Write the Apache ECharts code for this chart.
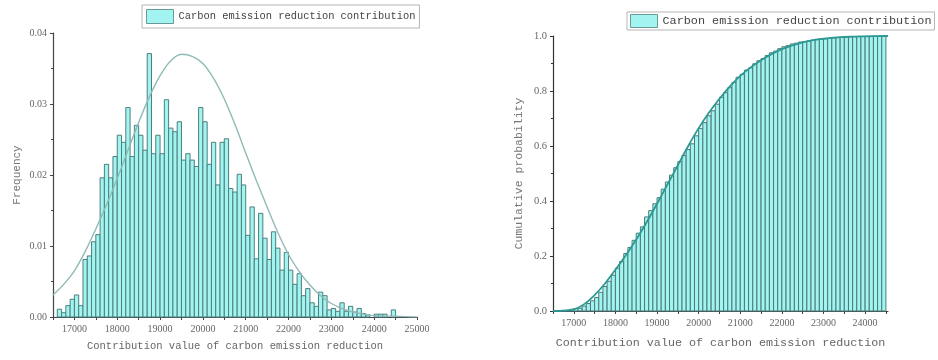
<!DOCTYPE html>
<html>
<head>
<meta charset="utf-8">
<script src="https://cdn.jsdelivr.net/npm/echarts@6/dist/echarts.min.js"></script>
<style>
  html, body { margin: 0; padding: 0; background: #fff; }
  #chart { width: 938px; height: 360px; }
</style>
</head>
<body>
<div id="chart"></div>
<script>
// histogram bins are 100 wide, first one starts at 16600
const binStart = 16600;
const binWidth = 100;

// left panel: frequency of each bin
const frequency = [
  0.0011, 0.0006, 0.0016, 0.0025, 0.0031, 0.0016, 0.0081, 0.0086, 0.0106, 0.0116,
  0.0196, 0.0215, 0.0196, 0.0226, 0.0256, 0.0246, 0.0295, 0.0226, 0.0270, 0.0256,
  0.0235, 0.0371, 0.0230, 0.0256, 0.0230, 0.0306, 0.0266, 0.0261, 0.0275, 0.0221,
  0.0230, 0.0221, 0.0212, 0.0295, 0.0275, 0.0215, 0.0246, 0.0186, 0.0246, 0.0251,
  0.0181, 0.0176, 0.0201, 0.0186, 0.0115, 0.0155, 0.0082, 0.0146, 0.0111, 0.0081,
  0.0120, 0.0097, 0.0066, 0.0091, 0.0066, 0.0046, 0.0061, 0.0030, 0.0040, 0.0020,
  0.0015, 0.0035, 0.0030, 0.0010, 0.0012, 0.0008, 0.0020, 0.0008, 0.0015, 0.0007,
  0.0012, 0.0005, 0.0003, 0, 0.0004, 0.0004, 0.0004, 0, 0.0010
];

// right panel: cumulative probability of each bin
const cumulative = [
  0.001, 0.002, 0.003, 0.006, 0.009, 0.010, 0.018, 0.027, 0.037, 0.049,
  0.068, 0.089, 0.108, 0.130, 0.156, 0.180, 0.209, 0.231, 0.257, 0.283,
  0.306, 0.342, 0.365, 0.390, 0.412, 0.443, 0.469, 0.494, 0.521, 0.543,
  0.566, 0.587, 0.608, 0.637, 0.664, 0.685, 0.710, 0.728, 0.752, 0.777,
  0.794, 0.812, 0.831, 0.850, 0.861, 0.876, 0.884, 0.899, 0.910, 0.918,
  0.929, 0.939, 0.945, 0.954, 0.961, 0.965, 0.971, 0.974, 0.978, 0.980,
  0.982, 0.985, 0.988, 0.989, 0.990, 0.991, 0.993, 0.994, 0.995, 0.996,
  0.997, 0.998, 0.998, 0.998, 0.999, 0.999, 0.999, 0.999, 1.000
];

// fitted curves as [x, y]
const pdfCurve = [
  [16500, 0.0031], [16750, 0.0046], [17000, 0.0065], [17250, 0.0092],
  [17500, 0.0124], [17750, 0.0158], [18000, 0.0195], [18250, 0.0235],
  [18500, 0.0274], [18750, 0.0310], [19000, 0.0340], [19250, 0.0361],
  [19500, 0.0370], [19750, 0.0367], [20000, 0.0357], [20250, 0.0336],
  [20500, 0.0307], [20750, 0.0271], [21000, 0.0231], [21250, 0.0192],
  [21500, 0.0155], [21750, 0.0119], [22000, 0.0088], [22250, 0.0064],
  [22500, 0.0045], [22750, 0.0030], [23000, 0.0019], [23250, 0.0012],
  [23500, 0.0007], [23750, 0.0004], [24000, 0.0002], [24500, 0.0001],
  [25000, 0.0000]
];
const cdfCurve = [
  [16500, 0.000], [16750, 0.001], [17000, 0.006], [17250, 0.025],
  [17500, 0.058], [17750, 0.100], [18000, 0.150], [18250, 0.203],
  [18500, 0.260], [18750, 0.323], [19000, 0.390], [19250, 0.460],
  [19500, 0.530], [19750, 0.600], [20000, 0.665], [20250, 0.722],
  [20500, 0.772], [20750, 0.817], [21000, 0.855], [21250, 0.886],
  [21500, 0.912], [21750, 0.934], [22000, 0.952], [22250, 0.966],
  [22500, 0.977], [22750, 0.985], [23000, 0.990], [23250, 0.994],
  [23500, 0.997], [23750, 0.998], [24000, 0.999], [24550, 1.000]
];

const leftTicks = [16500, 17000, 17500, 18000, 18500, 19000, 19500, 20000, 20500,
  21000, 21500, 22000, 22500, 23000, 23500, 24000, 24500, 25000];
const leftLabels = [17000, 18000, 19000, 20000, 21000, 22000, 23000, 24000, 25000];
const rightTicks = [16500, 17000, 17500, 18000, 18500, 19000, 19500, 20000, 20500,
  21000, 21500, 22000, 22500, 23000, 23500, 24000, 24500];
const rightLabels = [17000, 18000, 19000, 20000, 21000, 22000, 23000, 24000];

const seriesName = 'Carbon emission reduction contribution';
const xName = 'Contribution value of carbon emission reduction';

function toBins(values) {
  return values.map((v, i) => [binStart + i * binWidth, binStart + (i + 1) * binWidth, v]);
}

function barItem(fill, stroke) {
  return function (params, api) {
    const y = api.value(2);
    if (!y) return null;
    const p0 = api.coord([api.value(0), 0]);
    const p1 = api.coord([api.value(1), y]);
    return {
      type: 'rect',
      shape: { x: p0[0], y: p1[1], width: p1[0] - p0[0], height: p0[1] - p1[1] },
      style: { fill: fill, stroke: stroke, lineWidth: 1 }
    };
  };
}

const serif = 'Liberation Serif';
const mono = 'Liberation Mono';
const barFill = '#a2f4f0';
const barLine = '#4d7f7d';

function xAxis(grid, min, max, ticks, labels, nameSize, gap) {
  return {
    type: 'value', gridIndex: grid, min: min, max: max,
    name: xName, nameLocation: 'middle', nameGap: gap,
    nameTextStyle: { fontFamily: mono, fontSize: nameSize, color: '#666' },
    axisLine: { lineStyle: { color: '#444', width: 1.2 } },
    axisTick: { customValues: ticks, length: 3, lineStyle: { color: '#444' } },
    axisLabel: { customValues: labels, fontFamily: serif, fontSize: 10, color: '#666', margin: 7,
      formatter: v => String(v) },
    splitLine: { show: false }
  };
}

let myChart = echarts.init(document.getElementById('chart'));
myChart.setOption({
  animation: false,
  backgroundColor: '#fff',
  legend: [
    {
      left: 142, top: 5, padding: [4, 4],
      borderColor: '#b5b5b5', borderWidth: 1,
      itemWidth: 27, itemHeight: 14, itemGap: 5,
      textStyle: { fontFamily: mono, fontSize: 10.4, color: '#444' },
      data: [{ name: seriesName, icon: 'rect',
        itemStyle: { color: barFill, borderColor: '#6a9a98', borderWidth: 1 } }]
    },
    {
      left: 627, top: 12, padding: [2, 3],
      borderColor: '#b5b5b5', borderWidth: 1,
      itemWidth: 27, itemHeight: 13, itemGap: 5,
      textStyle: { fontFamily: mono, fontSize: 11.8, color: '#444' },
      data: [{ name: seriesName, icon: 'rect',
        itemStyle: { color: barFill, borderColor: '#6a9a98', borderWidth: 1 } }]
    }
  ],
  grid: [
    { left: 53, top: 33, width: 364, height: 284 },
    { left: 553, top: 36, width: 335, height: 275 }
  ],
  xAxis: [
    xAxis(0, 16500, 25000, leftTicks, leftLabels, 10.5, 24),
    xAxis(1, 16500, 24550, rightTicks, rightLabels, 11.7, 26)
  ],
  yAxis: [
    {
      type: 'value', gridIndex: 0, min: 0, max: 0.04, interval: 0.01,
      name: 'Frequency', nameLocation: 'middle', nameGap: 30,
      nameTextStyle: { fontFamily: mono, fontSize: 11, color: '#777' },
      axisLine: { show: true, lineStyle: { color: '#444', width: 1.2 } },
      axisTick: { show: true, length: 3, lineStyle: { color: '#444' } },
      minorTick: { show: true, splitNumber: 2, length: 2, lineStyle: { color: '#444' } },
      axisLabel: { fontFamily: serif, fontSize: 10, color: '#666', margin: 6,
        formatter: v => v.toFixed(2) },
      splitLine: { show: false }
    },
    {
      type: 'value', gridIndex: 1, min: 0, max: 1, interval: 0.2,
      name: 'Cumulative probability', nameLocation: 'middle', nameGap: 28,
      nameTextStyle: { fontFamily: mono, fontSize: 11.5, color: '#777' },
      axisLine: { show: true, lineStyle: { color: '#333', width: 1.2 } },
      axisTick: { show: true, length: 3, lineStyle: { color: '#333' } },
      minorTick: { show: true, splitNumber: 2, length: 2, lineStyle: { color: '#333' } },
      axisLabel: { fontFamily: serif, fontSize: 10.5, color: '#666', margin: 6,
        formatter: v => v.toFixed(1) },
      splitLine: { show: false }
    }
  ],
  series: [
    {
      name: seriesName, type: 'custom', xAxisIndex: 0, yAxisIndex: 0,
      renderItem: barItem(barFill, barLine),
      encode: { x: [0, 1], y: 2 },
      data: toBins(frequency)
    },
    {
      name: 'pdf', type: 'line', xAxisIndex: 0, yAxisIndex: 0,
      smooth: 0.3, showSymbol: false, z: 5,
      lineStyle: { color: '#8fbab6', width: 1.4 },
      data: pdfCurve
    },
    {
      name: seriesName, type: 'custom', xAxisIndex: 1, yAxisIndex: 1,
      renderItem: barItem(barFill, '#4a7a78'),
      encode: { x: [0, 1], y: 2 },
      data: toBins(cumulative)
    },
    {
      name: 'cdf', type: 'line', xAxisIndex: 1, yAxisIndex: 1,
      smooth: 0.3, showSymbol: false, z: 5,
      lineStyle: { color: '#2b9a94', width: 1.8 },
      data: cdfCurve
    }
  ]
});
</script>
</body>
</html>
